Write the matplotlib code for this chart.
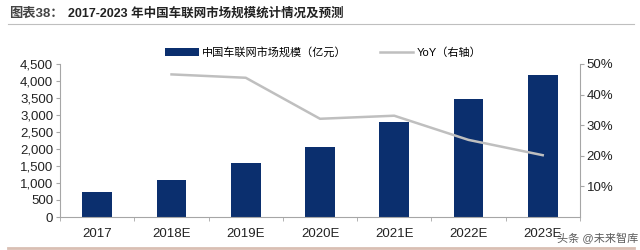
import matplotlib
matplotlib.use('Agg')
import matplotlib.pyplot as plt
from matplotlib.lines import Line2D
from matplotlib.ticker import FuncFormatter

plt.rcParams['font.family'] = ['Liberation Sans', 'Noto Sans CJK SC']

# data
years = ['2017', '2018E', '2019E', '2020E', '2021E', '2022E', '2023E']
market_size = [740, 1080, 1580, 2070, 2780, 3470, 4170]   # 亿元
yoy_years = ['2018E', '2019E', '2020E', '2021E', '2022E', '2023E']
yoy = [0.466, 0.455, 0.321, 0.331, 0.252, 0.202]

bar_color = '#0B2F6E'
line_color = '#BFBFBF'
axis_color = '#A6A6A6'

fig = plt.figure(figsize=(6.4, 2.5), dpi=100)
ax = fig.add_axes([0.094, 0.132, 0.812, 0.612])
ax2 = ax.twinx()

x = list(range(len(years)))
bars = ax.bar(x, market_size, width=0.40, color=bar_color, zorder=2,
              label='中国车联网市场规模（亿元）')
xi = [years.index(y) for y in yoy_years]
line, = ax2.plot(xi, yoy, color=line_color, lw=1.8, label='YoY（右轴）')

ax.set_xlim(-0.5, len(years) - 0.5)
ax.set_ylim(0, 4500)
ax.set_yticks(range(0, 4501, 500))
ax.yaxis.set_major_formatter(FuncFormatter(lambda v, p: f'{int(v):,}'))
ax2.set_ylim(0, 0.5)
ax2.set_yticks([0.1, 0.2, 0.3, 0.4, 0.5])
ax2.yaxis.set_major_formatter(FuncFormatter(lambda v, p: f'{v*100:.0f}%'))

ax.set_xticks(x)
ax.set_xticklabels(years)
ax.set_xticks([i + 0.5 for i in range(-1, len(years))], minor=True)
ax.tick_params(axis='x', which='major', length=0, pad=8, labelsize=9.5)
ax.tick_params(axis='x', which='minor', length=3, color=axis_color, direction='out')

ax.spines['top'].set_visible(False)
ax2.spines['top'].set_visible(False)
ax.spines['right'].set_visible(False)
ax2.spines['left'].set_visible(False)
ax2.spines['bottom'].set_visible(False)
ax.spines['left'].set_color(axis_color)
ax.spines['bottom'].set_color(axis_color)
ax2.spines['right'].set_color(axis_color)
ax.tick_params(axis='y', length=3, color=axis_color, labelsize=9.5, pad=2, labelcolor='#222222')
ax2.tick_params(axis='y', length=3, color=axis_color, labelsize=9.5, pad=2, labelcolor='#222222')
ax.tick_params(axis='x', labelcolor='#222222')

fig.legend(handles=[bars, line], loc='center', bbox_to_anchor=(0.505, 0.79),
           ncol=2, frameon=False, fontsize=8, handlelength=3.0,
           handletextpad=0.3, columnspacing=3.0)

# title block
fig.text(0.014, 0.944, '图表38：', fontsize=9.5, fontweight='bold',
         va='center', ha='left', color='#444444')
fig.text(0.106, 0.944, '2017-2023 年中国车联网市场规模统计情况及预测',
         fontsize=9, fontweight='bold', va='center', ha='left', color='#222222')
fig.add_artist(Line2D([0.012, 0.99], [0.905, 0.905], color='#BFBFBF', lw=0.8))
fig.add_artist(Line2D([0.012, 0.99], [0.01, 0.01], color='#D9BFB3', lw=2))

# watermark
fig.text(0.998, 0.045, '头条 @未来智库', fontsize=8, color='#333333',
         ha='right', va='center', alpha=0.8)

fig.savefig('out.png', dpi=100)
